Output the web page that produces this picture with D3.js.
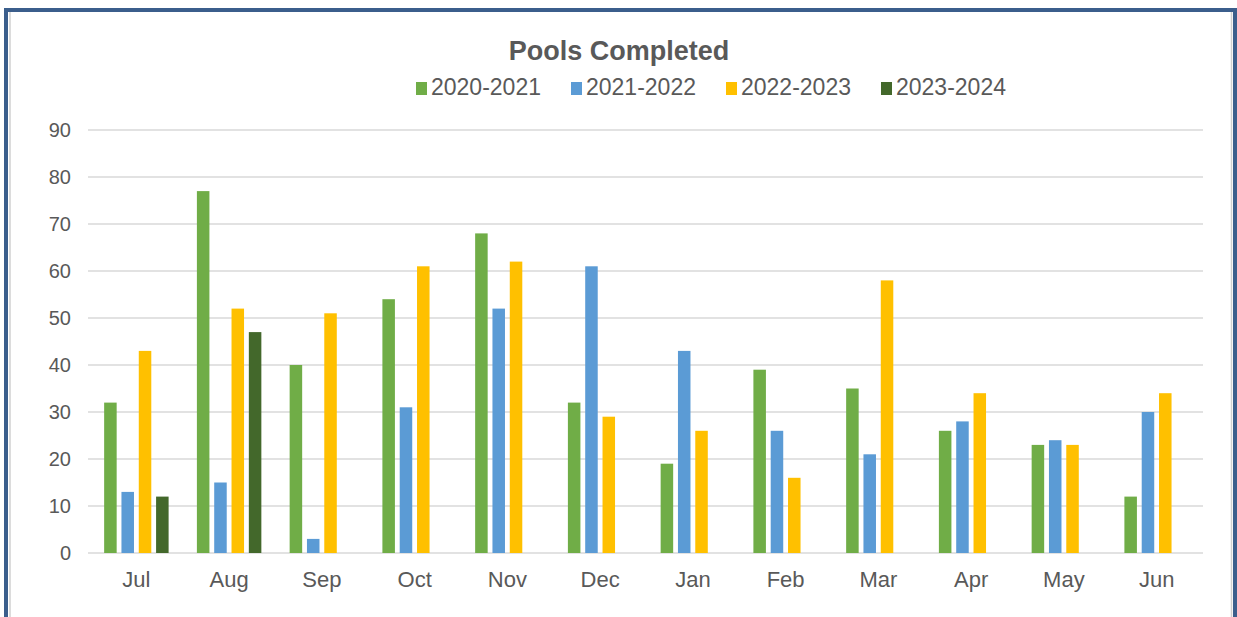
<!DOCTYPE html>
<html>
<head>
<meta charset="utf-8">
<script src="https://cdn.jsdelivr.net/npm/d3@7"></script>
<style>
  html, body { margin: 0; padding: 0; background: #fff; overflow: hidden; }
  svg { display: block; font-family: "Liberation Sans", Arial, sans-serif; }
</style>
</head>
<body>
<div class="box"></div>
<script>
const months = ['Jul', 'Aug', 'Sep', 'Oct', 'Nov', 'Dec', 'Jan', 'Feb', 'Mar', 'Apr', 'May', 'Jun'];
const seriesNames = ['2020-2021', '2021-2022', '2022-2023', '2023-2024'];
const seriesColors = ['#70ad47', '#5b9bd5', '#ffc000', '#43682b'];
const values2020 = [32, 77, 40, 54, 68, 32, 19, 39, 35, 26, 23, 12];
const values2021 = [13, 15, 3, 31, 52, 61, 43, 26, 21, 28, 24, 30];
const values2022 = [43, 52, 51, 61, 62, 29, 26, 16, 58, 34, 23, 34];
const values2023 = [12, 47, null, null, null, null, null, null, null, null, null, null];
const yTicks = [0, 10, 20, 30, 40, 50, 60, 70, 80, 90];
const chartTitle = 'Pools Completed';

const allValues = [values2020, values2021, values2022, values2023];

let bars = [];
months.forEach(function (m, i) {
  seriesNames.forEach(function (s, j) {
    if (allValues[j][i] != null) {
      bars.push({ month: m, series: s, value: allValues[j][i], color: seriesColors[j] });
    }
  });
});

const width = 1237, height = 617;
const svg = d3.select('.box').append('svg')
  .attr('width', width)
  .attr('height', height);

let margin = { left: 90, right: 34, top: 130, bottom: 64 };
let x0 = d3.scaleBand()
  .domain(months)
  .range([margin.left, width - margin.right])
  .paddingInner(0.305)
  .paddingOuter(0.1525);
let x1 = d3.scaleBand()
  .domain(seriesNames)
  .range([0, x0.bandwidth()])
  .paddingInner(0.277);
let y = d3.scaleLinear()
  .domain([0, 90])
  .range([height - margin.bottom, margin.top]);

// gridlines
svg.append('g')
  .selectAll('line')
  .data(yTicks)
  .enter().append('line')
  .attr('x1', margin.left - 2)
  .attr('x2', width - margin.right)
  .attr('y1', function (d) { return y(d); })
  .attr('y2', function (d) { return y(d); })
  .attr('stroke', '#d9d9d9')
  .attr('stroke-width', 1.5);

// y labels
svg.append('g')
  .call(d3.axisLeft(y).tickValues(yTicks).tickSize(0).tickPadding(0))
  .attr('transform', 'translate(71,0)')
  .call(function (g) { g.select('.domain').remove(); })
  .selectAll('text')
  .attr('font-size', 20)
  .attr('fill', '#595959')
  .attr('font-family', '"Liberation Sans", Arial, sans-serif');

// bars
svg.append('g')
  .selectAll('rect')
  .data(bars)
  .enter().append('rect')
  .attr('x', function (d) { return x0(d.month) + x1(d.series); })
  .attr('width', x1.bandwidth())
  .attr('y', function (d) { return y(d.value); })
  .attr('height', function (d) { return y(0) - y(d.value); })
  .attr('fill', function (d) { return d.color; });

// x labels
svg.append('g')
  .attr('transform', 'translate(0,' + y(0) + ')')
  .call(d3.axisBottom(x0).tickSize(0).tickPadding(18))
  .call(function (g) { g.select('.domain').remove(); })
  .selectAll('text')
  .attr('font-size', 22)
  .attr('fill', '#595959')
  .attr('font-family', '"Liberation Sans", Arial, sans-serif');

// title
svg.append('text')
  .attr('x', 619)
  .attr('y', 60)
  .attr('text-anchor', 'middle')
  .attr('font-size', 27)
  .attr('font-weight', 'bold')
  .attr('fill', '#595959')
  .text(chartTitle);

// legend
let legendX = d3.scaleBand().domain(seriesNames).range([416, 1036]);
let legend = svg.append('g')
  .selectAll('g')
  .data(seriesNames)
  .enter().append('g')
  .attr('transform', function (d) { return 'translate(' + legendX(d) + ',0)'; });
legend.append('rect')
  .attr('x', 0)
  .attr('y', 82)
  .attr('width', 11)
  .attr('height', 13)
  .attr('fill', function (d, i) { return seriesColors[i]; });
legend.append('text')
  .attr('x', 15)
  .attr('y', 95)
  .attr('font-size', 23)
  .attr('fill', '#595959')
  .text(function (d) { return d; });

// frame
svg.append('line').attr('x1', 10).attr('x2', 10).attr('y1', 12).attr('y2', height)
  .attr('stroke', '#d0d0d0').attr('stroke-width', 1.5);
svg.append('line').attr('x1', 1231.5).attr('x2', 1231.5).attr('y1', 12).attr('y2', height)
  .attr('stroke', '#d0d0d0').attr('stroke-width', 1.5);
svg.append('rect')
  .attr('x', 6)
  .attr('y', 10)
  .attr('width', 1229)
  .attr('height', 660)
  .attr('fill', 'none')
  .attr('stroke', '#3b5e8c')
  .attr('stroke-width', 4);
</script>
</body>
</html>
